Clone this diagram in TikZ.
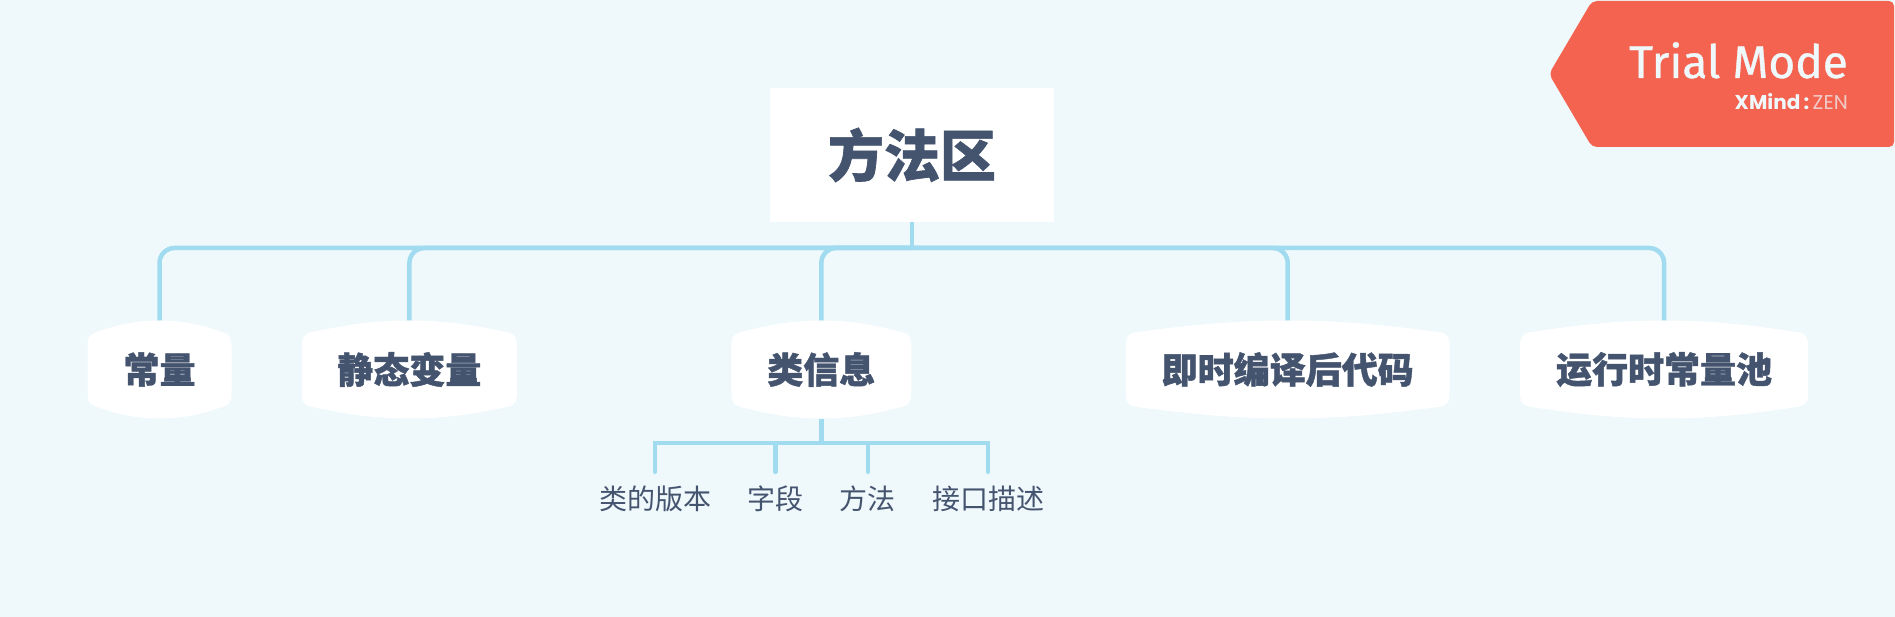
\documentclass[tikz,border=0pt]{standalone}
\usepackage{fontspec}
\usepackage{xcolor}
\usetikzlibrary{positioning, backgrounds}
\newfontfamily\cjk[BoldFeatures={FakeBold=1.2}]{Noto Sans CJK SC}
\newfontfamily\badgefont[FakeBold=0.8]{Fira Sans}
\newfontfamily\brandfont{Poppins}
\definecolor{paper}{HTML}{EFF8FB}
\definecolor{ink}{HTML}{44546F}
\definecolor{wire}{HTML}{A0DBF0}
\definecolor{badge}{HTML}{F4634F}

% white plate behind a topic: node name, half width
\newcommand{\topicplate}[2]{
  \fill[white, shift={(#1.center)}]
    (-#2,-24) .. controls (-#2,-32) and (-#2+2,-35) .. (-#2+8,-37)
    .. controls ({-#2*0.5},-47) and ({-#2*0.25},-49) .. (0,-49)
    .. controls ({#2*0.25},-49) and ({#2*0.5},-47) .. (#2-8,-37)
    .. controls (#2-2,-35) and (#2,-32) .. (#2,-24)
    -- (#2,24) .. controls (#2,32) and (#2-2,35) .. (#2-8,37)
    .. controls ({#2*0.5},47) and ({#2*0.25},49) .. (0,49)
    .. controls ({-#2*0.25},49) and ({-#2*0.5},47) .. (-#2+8,37)
    .. controls (-#2+2,35) and (-#2,32) .. (-#2,24) -- cycle;
}

\begin{document}
\begin{tikzpicture}[
  x=1pt, y=-1pt,
  root/.style={fill=white, text=ink, inner sep=0pt, minimum width=284pt, minimum height=134pt, font=\cjk\bfseries\fontsize{56}{60}\selectfont},
  topic/.style={text=ink, inner sep=0pt, minimum width=#1, minimum height=98pt, font=\cjk\bfseries\fontsize{36}{40}\selectfont},
  subtopic/.style={text=ink, inner sep=0pt, minimum height=54pt, font=\cjk\fontsize{28}{32}\selectfont},
  branch/.style={draw=wire, line width=4.5pt, rounded corners=15pt},
  stem/.style={draw=wire, line width=4.5pt},
  twig/.style={stem, line cap=round}
]
\useasboundingbox (0,0) rectangle (1895,617);

\fill[badge, rounded corners=5pt] (1549,74) -- (1592,1) -- (1894,1) -- (1894,147) -- (1592,147) -- cycle;
\node[anchor=base east, text=paper, inner sep=0pt, font=\badgefont\fontsize{46}{50}\selectfont] (trial) at (1848,78) {Trial Mode};
\node[anchor=base east, text=paper, inner sep=0pt, font=\brandfont\fontsize{20}{22}\selectfont] (brand) at (1848,110) {\textbf{XMind\,:}\,\textcolor{paper!70!badge}{ZEN}};

\node[root] (area) at (912,155) {方法区};
\node[topic=144pt] (konst) at (159.5,369.5) {常量};
\node[topic=215pt, right=70pt of konst] (static) {静态变量};
\node[topic=180pt, right=214pt of static] (info) {类信息};
\node[topic=324pt, right=214pt of info] (jit) {即时编译后代码};
\node[topic=288pt, right=70pt of jit] (pool) {运行时常量池};

\node[subtopic] (version) at (655,499) {类的版本};
\node[subtopic, right=36pt of version] (field) {字段};
\node[subtopic, right=36pt of field] (method) {方法};
\node[subtopic, right=36pt of method] (iface) {接口描述};

\coordinate (bus) at (912,248);
\coordinate (subbus) at (info.south |- 0,443);

\draw[branch] (area.south) -- (bus);
\draw[branch] (konst.north) |- (bus);
\draw[branch] (static.north) |- (bus);
\draw[branch] (info.north) |- (bus);
\draw[branch] (jit.north) |- (bus);
\draw[branch] (pool.north) |- (bus);

\draw[stem] (info.south) -- (subbus);
\draw[twig] (version.north) |- (subbus);
\draw[twig] (field.north) |- (subbus);
\draw[twig] (method.north) |- (subbus);
\draw[twig] (iface.north) |- (subbus);

\begin{scope}[on background layer]
\fill[paper] (0,0) rectangle (1895,617);
\topicplate{konst}{72}
\topicplate{static}{107.5}
\topicplate{info}{90}
\topicplate{jit}{162}
\topicplate{pool}{144}
\end{scope}
\end{tikzpicture}
\end{document}
